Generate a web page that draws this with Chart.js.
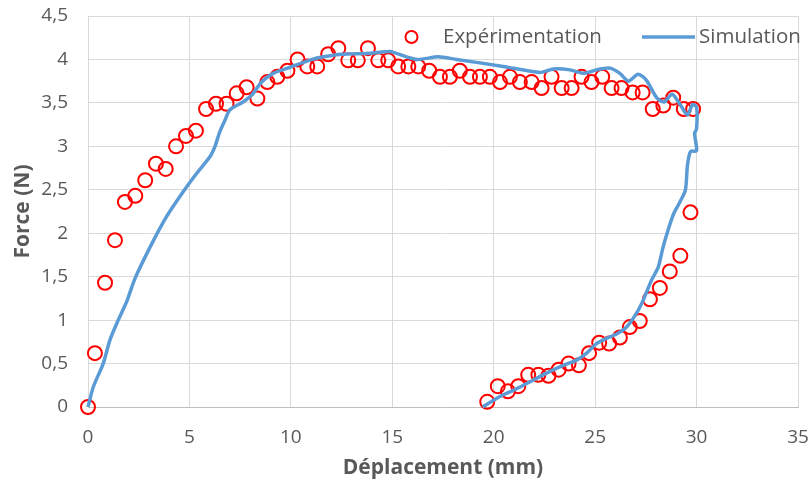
<!DOCTYPE html>
<html>
<head>
<meta charset="utf-8">
<script src="https://cdn.jsdelivr.net/npm/chart.js@4.4.1/dist/chart.umd.min.js"></script>
<style>
  html, body { margin: 0; padding: 0; background: #fff; }
  #wrap { width: 812px; height: 483px; }
</style>
</head>
<body>
<div id="wrap"><canvas id="chart" width="812" height="483"></canvas></div>
<script>
// Expérimentation (mesures)
const expX = [0, 0.34, 0.84, 1.33, 1.82, 2.33, 2.82, 3.35, 3.83, 4.34, 4.83, 5.32, 5.82, 6.31, 6.83,
  7.33, 7.82, 8.35, 8.84, 9.33, 9.83, 10.33, 10.81, 11.3, 11.84, 12.34, 12.83, 13.3, 13.8, 14.31,
  14.8, 15.29, 15.79, 16.28, 16.82, 17.35, 17.84, 18.33, 18.83, 19.32, 19.81, 20.31, 20.8, 21.29,
  21.87, 22.36, 22.85, 23.35, 23.84, 24.33, 24.82, 25.35, 25.81, 26.3, 26.85, 27.34, 27.84, 28.36,
  28.85, 29.37, 29.83,
  29.7, 29.2, 28.68, 28.19, 27.7, 27.2, 26.71, 26.22, 25.69, 25.2, 24.7, 24.2, 23.69, 23.2, 22.7,
  22.2, 21.7, 21.21, 20.7, 20.2, 19.68];
const expY = [0, 0.62, 1.43, 1.92, 2.36, 2.43, 2.61, 2.8, 2.74, 3.0, 3.12, 3.18, 3.43, 3.49, 3.49,
  3.61, 3.68, 3.55, 3.74, 3.8, 3.87, 4.0, 3.92, 3.92, 4.06, 4.13, 3.99, 3.99, 4.13, 3.99,
  3.99, 3.92, 3.92, 3.92, 3.87, 3.8, 3.8, 3.87, 3.8, 3.8, 3.8, 3.74, 3.8, 3.74,
  3.74, 3.67, 3.8, 3.67, 3.67, 3.8, 3.74, 3.8, 3.67, 3.67, 3.62, 3.62, 3.43, 3.47,
  3.56, 3.43, 3.43,
  2.24, 1.74, 1.56, 1.37, 1.24, 0.99, 0.92, 0.8, 0.73, 0.74, 0.62, 0.48, 0.5, 0.43, 0.36,
  0.37, 0.37, 0.24, 0.18, 0.24, 0.06];

// Simulation (courbe continue charge puis décharge)
const simX = [0, 0.26, 0.75, 1.08, 1.49, 1.9, 2.32, 3.06, 3.87, 4.7, 5.36, 6.01, 6.26, 6.5, 6.75,
  7.0, 7.64, 8.07, 8.56, 9.13, 9.96, 10.9, 11.6, 12.5, 13.9, 14.88, 15.2, 16.2, 17.26, 18.17,
  20.47, 22.28, 22.94, 23.76, 24.41, 25.07, 25.73, 26.22, 26.63, 27.12, 27.53, 28.03, 28.39,
  28.8, 29.22, 29.55, 29.8, 30.0, 30.0, 29.9, 30.0, 29.7, 29.55, 29.45, 29.18, 28.88, 28.6,
  28.35, 28.11, 27.78, 27.37, 27.04, 26.55, 26.06, 25.56, 25.07, 24.58, 24.09, 23.43, 22.77,
  21.95, 21.13, 20.31, 19.45];
const simY = [0, 0.23, 0.5, 0.77, 1.0, 1.21, 1.48, 1.84, 2.19, 2.48, 2.69, 2.88, 3.0, 3.17, 3.3,
  3.42, 3.51, 3.59, 3.74, 3.84, 3.91, 3.99, 4.03, 4.06, 4.07, 4.09, 4.07, 4.0, 4.03, 4.0,
  3.92, 3.85, 3.89, 3.88, 3.84, 3.88, 3.9, 3.84, 3.75, 3.83, 3.76, 3.56, 3.51,
  3.6, 3.47, 3.36, 3.48, 3.45, 3.2, 3.15, 2.95, 2.94, 2.78, 2.5, 2.36, 2.23, 2.04,
  1.84, 1.61, 1.46, 1.23, 1.08, 0.92, 0.84, 0.79, 0.73, 0.62, 0.54, 0.48, 0.41,
  0.31, 0.21, 0.12, 0];

const seriesNames = ['Expérimentation', 'Simulation'];
const FONT = "'Open Sans', 'Noto Sans', sans-serif";
const TEXT = '#595959';

const toPts = (xs, ys) => xs.map((x, i) => ({ x: x, y: ys[i] }));
const comma = v => String(v).replace('.', ',');

// pas de marge auto pour les étiquettes : la zone de tracé est fixée par layout.padding
const noOverhang = scale => {
  scale.paddingTop = 0; scale.paddingBottom = 0;
  scale.paddingLeft = 0; scale.paddingRight = 0;
};

// Légende dessinée dans la zone de tracé, comme dans Excel
const insideLegend = {
  id: 'insideLegend',
  afterDraw(chart) {
    const ctx = chart.ctx;
    const ds = chart.data.datasets;
    const yMid = 37;
    ctx.save();
    ctx.font = '20.5px ' + FONT;
    ctx.fillStyle = TEXT;
    ctx.textBaseline = 'middle';
    ctx.textAlign = 'left';

    ctx.beginPath();
    ctx.arc(411.5, yMid, 6, 0, Math.PI * 2);
    ctx.lineWidth = 2;
    ctx.strokeStyle = ds[0].borderColor;
    ctx.stroke();
    ctx.fillText(ds[0].label, 443, yMid);

    ctx.beginPath();
    ctx.moveTo(642, yMid);
    ctx.lineTo(695, yMid);
    ctx.lineWidth = 3.5;
    ctx.strokeStyle = ds[1].borderColor;
    ctx.stroke();
    ctx.fillText(ds[1].label, 699, yMid);
    ctx.restore();
  }
};

new Chart(document.getElementById('chart'), {
  type: 'scatter',
  data: {
    datasets: [
      {
        label: seriesNames[0],
        data: toPts(expX, expY),
        borderColor: '#FF0000',
        backgroundColor: 'rgba(0,0,0,0)',
        pointRadius: 7,
        pointBorderWidth: 2,
        showLine: false,
        clip: false,
        order: 2
      },
      {
        label: seriesNames[1],
        data: toPts(simX, simY),
        borderColor: '#5B9BD5',
        backgroundColor: '#5B9BD5',
        borderWidth: 3.5,
        pointRadius: 0,
        showLine: true,
        tension: 0.25,
        clip: false,
        order: 1
      }
    ]
  },
  options: {
    responsive: false,
    animation: false,
    events: [],
    layout: { padding: { top: 16, right: 14, left: 0, bottom: 0 } },
    plugins: {
      legend: { display: false },
      tooltip: { enabled: false }
    },
    scales: {
      x: {
        type: 'linear',
        min: 0, max: 35,
        ticks: { stepSize: 5, color: TEXT, font: { family: FONT, size: 19 }, padding: 19 },
        grid: { color: '#D9D9D9', lineWidth: 1, drawTicks: false },
        border: { color: '#BFBFBF', width: 1 },
        title: { display: true, text: 'Déplacement (mm)', color: TEXT,
                 font: { family: FONT, size: 21, weight: 'bold' }, padding: { bottom: 2 } },
        afterFit(scale) { scale.height = 76; noOverhang(scale); }
      },
      y: {
        type: 'linear',
        min: 0, max: 4.5,
        ticks: { stepSize: 0.5, color: TEXT, font: { family: FONT, size: 19 }, padding: 20,
                 callback: v => comma(v) },
        grid: { color: '#D9D9D9', lineWidth: 1, drawTicks: false },
        border: { color: '#D9D9D9', width: 1 },
        title: { display: true, text: 'Force (N)', color: TEXT,
                 font: { family: FONT, size: 21, weight: 'bold' }, padding: { top: 10 } },
        afterFit(scale) { scale.width = 88; noOverhang(scale); }
      }
    }
  },
  plugins: [insideLegend]
});
</script>
</body>
</html>
